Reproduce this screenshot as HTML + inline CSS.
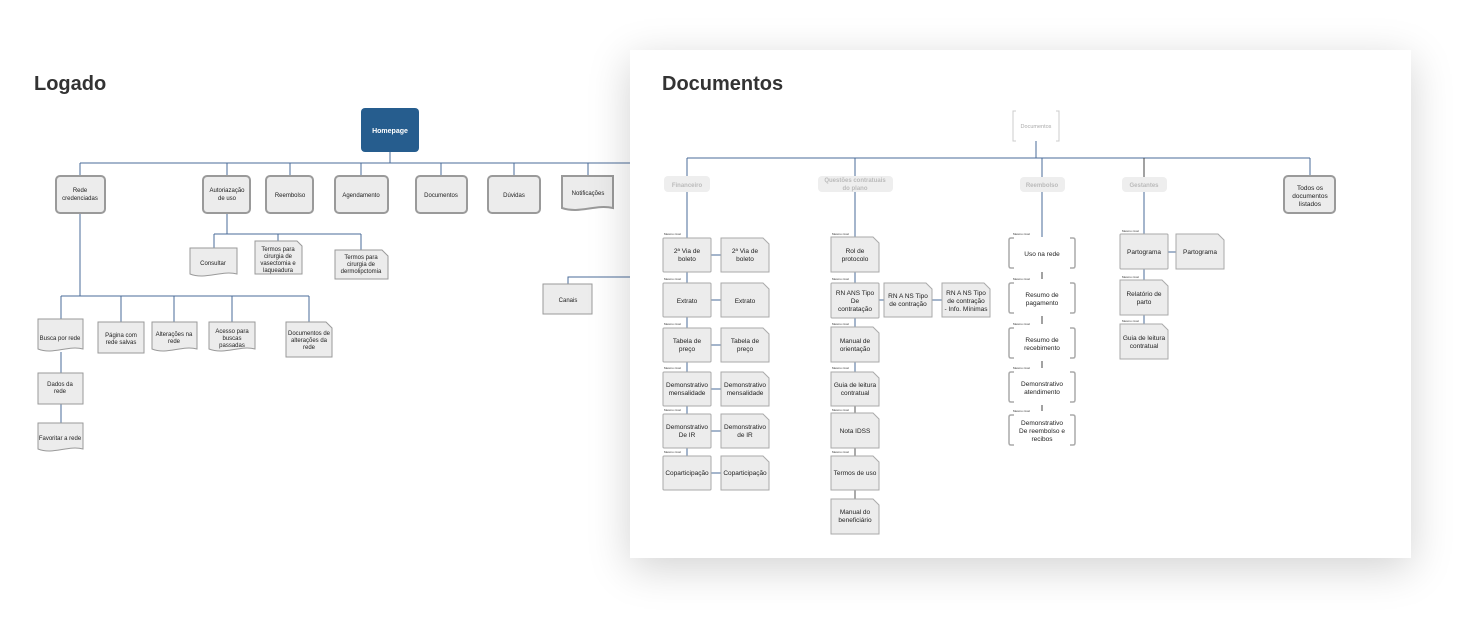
<!DOCTYPE html>
<html><head><meta charset="utf-8"><style>
html,body{margin:0;padding:0;background:#fff;}
body{width:1471px;height:628px;position:relative;overflow:hidden;font-family:"Liberation Sans",sans-serif;}
.card{position:absolute;left:630px;top:50px;width:781px;height:508px;background:#fff;box-shadow:0 10px 40px rgba(0,0,0,0.18);}
svg{position:absolute;left:0;top:0;}
text{font-family:"Liberation Sans",sans-serif;}
</style></head><body>
<svg width="1471" height="628" style="z-index:0">
<g fill="none" stroke="#4a6b98" stroke-width="1">
<path d="M80 163H630M390 152V163M80 163V176M227 163V176M290 163V176M361 163V176M441 163V176M514 163V176M588 163V176"/>
<path d="M227 213V234M214 234H361M214 234V248M278 234V241M361 234V250"/>
<path d="M80 213V296M61 296H309M61 296V319M121 296V322M174 296V322M232 296V322M309 296V322M61 352V373M61 404V423"/>
<path d="M568 314V277H630"/>
</g>
<text x="34" y="90" font-size="20" font-weight="bold" fill="#333">Logado</text>
<rect x="361" y="108" width="58" height="44" rx="4" fill="#265d8e"/>
<text x="390" y="133" font-size="7" font-weight="bold" fill="#fff" text-anchor="middle">Homepage</text>
<g fill="#ececec" stroke="#9a9a9a" stroke-width="2">
<rect x="56" y="176" width="49" height="37" rx="4"/>
<rect x="203" y="176" width="47" height="37" rx="4"/>
<rect x="266" y="176" width="47" height="37" rx="4"/>
<rect x="335" y="176" width="53" height="37" rx="4"/>
<rect x="416" y="176" width="51" height="37" rx="4"/>
<rect x="488" y="176" width="52" height="37" rx="4"/>
</g>
<g fill="#ececec" stroke="#9a9a9a" stroke-width="1">
<path d="M562 176H613V208C595 204 580 214 562 208Z" stroke-width="2"/>
<path d="M190 248H237V274C222 270 205 280 190 274Z"/>
<path d="M255 241H297L302 246V274H255Z"/>
<path d="M335 250H382L388 256V279H335Z"/>
<path d="M38 319H83V349C68 345 53 355 38 349Z"/>
<rect x="98" y="322" width="46" height="31"/>
<path d="M152 322H197V349C182 345 167 355 152 349Z"/>
<path d="M209 322H255V349C240 345 225 355 209 349Z"/>
<path d="M286 322H326L332 328V357H286Z"/>
<rect x="38" y="373" width="45" height="31"/>
<path d="M38 423H83V449C68 445 53 455 38 449Z"/>
<rect x="543" y="284" width="49" height="30"/>
</g>
<g font-size="6" fill="#222" text-anchor="middle">
<text x="80" y="192">Rede</text><text x="80" y="200">credenciadas</text>
<text x="227" y="192">Autoriazação</text><text x="227" y="200">de uso</text>
<text x="290" y="197">Reembolso</text>
<text x="361" y="197">Agendamento</text>
<text x="441" y="197">Documentos</text>
<text x="514" y="197">Dúvidas</text>
<text x="588" y="195">Notificações</text>
<text x="213" y="265">Consultar</text>
<text x="278" y="251">Termos para</text><text x="278" y="258">cirurgia de</text><text x="278" y="265">vasectomia e</text><text x="278" y="272">laqueadura</text>
<text x="361" y="259">Termos para</text><text x="361" y="266">cirurgia de</text><text x="361" y="273">dermolipctomia</text>
<text x="60" y="340">Busca por rede</text>
<text x="121" y="337">Página com</text><text x="121" y="344">rede salvas</text>
<text x="174" y="336">Alterações na</text><text x="174" y="343">rede</text>
<text x="232" y="333">Acesso para</text><text x="232" y="340">buscas</text><text x="232" y="347">passadas</text>
<text x="309" y="335">Documentos de</text><text x="309" y="342">alterações da</text><text x="309" y="349">rede</text>
<text x="60" y="386">Dados da</text><text x="60" y="393">rede</text>
<text x="60" y="440">Favoritar a rede</text>
<text x="568" y="302">Canais</text>
</g>
</svg>
<div class="card"></div>
<svg width="1471" height="628" style="z-index:2">
<text x="662" y="90" font-size="20" font-weight="bold" fill="#333">Documentos</text>
<g fill="none" stroke-width="1">
<path stroke="#4a6b98" d="M1036 141V158M687 158H1310M687 158V176M855 158V176M1042 158V177M1310 158V176"/>
<path stroke="#444" d="M1144 158V177"/>
<path stroke="#4a6b98" d="M687 192V238M687 272V283M687 317V328M687 362V372M687 406V414M687 448V456M711 255H721M711 300H721M711 345H721M711 389H721M711 431H721M711 473H721"/>
<path stroke="#4a6b98" d="M855 192V237M855 272V283M855 318V327M855 362V372M879 300H884M932 300H942"/>
<path stroke="#555" d="M855 406V413M855 448V456M855 490V499"/>
<path stroke="#4a6b98" d="M1042 192V237"/>
<path stroke="#444" d="M1042 272V279M1042 316V324M1042 361V368M1042 405V411"/>
<path stroke="#4a6b98" d="M1144 192V234M1144 269V280M1144 315V324M1168 252H1176"/>
</g>
<path d="M1016 111h-3v30h3M1056 111h3v30h-3" fill="none" stroke="#ccc" stroke-width="1"/>
<text x="1036" y="128" font-size="5.5" fill="#aaa" text-anchor="middle">Documentos</text>
<g fill="#eee">
<rect x="664" y="176" width="46" height="16" rx="4"/>
<rect x="818" y="176" width="75" height="16" rx="4"/>
<rect x="1020" y="177" width="45" height="15" rx="4"/>
<rect x="1122" y="177" width="45" height="15" rx="4"/>
</g>
<g font-size="6" font-weight="bold" fill="#bbb" text-anchor="middle">
<text x="687" y="187">Financeiro</text>
<text x="855" y="182">Questões contratuais</text><text x="855" y="190">do plano</text>
<text x="1042" y="187">Reembolso</text>
<text x="1144" y="187">Gestantes</text>
</g>
<rect x="1284" y="176" width="51" height="37" rx="4" fill="#ececec" stroke="#9a9a9a" stroke-width="2"/>
<g fill="#ececec" stroke="#aaa" stroke-width="1">
<rect x="663" y="238" width="48" height="34" rx="1"/><path d="M721 238H763L769 244V272H721Z"/>
<rect x="663" y="283" width="48" height="34" rx="1"/><path d="M721 283H763L769 289V317H721Z"/>
<rect x="663" y="328" width="48" height="34" rx="1"/><path d="M721 328H763L769 334V362H721Z"/>
<rect x="663" y="372" width="48" height="34" rx="1"/><path d="M721 372H763L769 378V406H721Z"/>
<rect x="663" y="414" width="48" height="34" rx="1"/><path d="M721 414H763L769 420V448H721Z"/>
<rect x="663" y="456" width="48" height="34" rx="1"/><path d="M721 456H763L769 462V490H721Z"/>
<path d="M831 237H873L879 243V272H831Z"/>
<rect x="831" y="283" width="48" height="35" rx="1"/>
<path d="M884 283H926L932 289V317H884Z"/><path d="M942 283H984L990 289V317H942Z"/>
<path d="M831 327H873L879 333V362H831Z"/>
<path d="M831 372H873L879 378V406H831Z"/>
<path d="M831 413H873L879 419V448H831Z"/>
<path d="M831 456H873L879 462V490H831Z"/>
<path d="M831 499H873L879 505V534H831Z"/>
<rect x="1120" y="234" width="48" height="35" rx="1"/><path d="M1176 234H1218L1224 240V269H1176Z"/>
<path d="M1120 280H1162L1168 286V315H1120Z"/>
<path d="M1120 324H1162L1168 330V359H1120Z"/>
</g>
<g fill="none" stroke="#aaa" stroke-width="1.5">
<path d="M1014 238h-3q-2 0-2 2v26q0 2 2 2h3M1070 238h3q2 0 2 2v26q0 2-2 2h-3"/>
<path d="M1014 283h-3q-2 0-2 2v26q0 2 2 2h3M1070 283h3q2 0 2 2v26q0 2-2 2h-3"/>
<path d="M1014 328h-3q-2 0-2 2v26q0 2 2 2h3M1070 328h3q2 0 2 2v26q0 2-2 2h-3"/>
<path d="M1014 372h-3q-2 0-2 2v26q0 2 2 2h3M1070 372h3q2 0 2 2v26q0 2-2 2h-3"/>
<path d="M1014 415h-3q-2 0-2 2v26q0 2 2 2h3M1070 415h3q2 0 2 2v26q0 2-2 2h-3"/>
</g>
<g font-size="3" fill="#333">
<text x="664" y="235">Mesmo nível</text><text x="664" y="280">Mesmo nível</text><text x="664" y="325">Mesmo nível</text><text x="664" y="369">Mesmo nível</text><text x="664" y="411">Mesmo nível</text><text x="664" y="453">Mesmo nível</text>
<text x="832" y="235">Mesmo nível</text><text x="832" y="280">Mesmo nível</text><text x="832" y="325">Mesmo nível</text><text x="832" y="369">Mesmo nível</text><text x="832" y="411">Mesmo nível</text><text x="832" y="453">Mesmo nível</text>
<text x="1013" y="235">Mesmo nível</text><text x="1013" y="280">Mesmo nível</text><text x="1013" y="325">Mesmo nível</text><text x="1013" y="369">Mesmo nível</text><text x="1013" y="412">Mesmo nível</text>
<text x="1122" y="232">Mesmo nível</text><text x="1122" y="278">Mesmo nível</text><text x="1122" y="322">Mesmo nível</text>
</g>
<g font-size="6.5" fill="#222" text-anchor="middle">
<text x="687" y="253">2ª Via de</text><text x="687" y="261">boleto</text><text x="745" y="253">2ª Via de</text><text x="745" y="261">boleto</text>
<text x="687" y="303">Extrato</text><text x="745" y="303">Extrato</text>
<text x="687" y="343">Tabela de</text><text x="687" y="351">preço</text><text x="745" y="343">Tabela de</text><text x="745" y="351">preço</text>
<text x="687" y="387">Demonstrativo</text><text x="687" y="395">mensalidade</text><text x="745" y="387">Demonstrativo</text><text x="745" y="395">mensalidade</text>
<text x="687" y="429">Demonstrativo</text><text x="687" y="437">De IR</text><text x="745" y="429">Demonstrativo</text><text x="745" y="437">de IR</text>
<text x="687" y="475">Coparticipação</text><text x="745" y="475">Coparticipação</text>
<text x="855" y="253">Rol de</text><text x="855" y="261">protocolo</text>
<text x="855" y="295">RN ANS Tipo</text><text x="855" y="303">De</text><text x="855" y="311">contratação</text>
<text x="908" y="298">RN A NS Tipo</text><text x="908" y="306">de contração</text>
<text x="966" y="295">RN A NS Tipo</text><text x="966" y="303">de contração</text><text x="966" y="311">- Info. Mínimas</text>
<text x="855" y="343">Manual de</text><text x="855" y="351">orientação</text>
<text x="855" y="387">Guia de leitura</text><text x="855" y="395">contratual</text>
<text x="855" y="433">Nota IDSS</text>
<text x="855" y="475">Termos de uso</text>
<text x="855" y="514">Manual do</text><text x="855" y="522">beneficiário</text>
<text x="1042" y="256">Uso na rede</text>
<text x="1042" y="297">Resumo de</text><text x="1042" y="305">pagamento</text>
<text x="1042" y="342">Resumo de</text><text x="1042" y="350">recebimento</text>
<text x="1042" y="386">Demonstrativo</text><text x="1042" y="394">atendimento</text>
<text x="1042" y="425">Demonstrativo</text><text x="1042" y="433">De reembolso e</text><text x="1042" y="441">recibos</text>
<text x="1144" y="254">Partograma</text><text x="1200" y="254">Partograma</text>
<text x="1144" y="296">Relatório de</text><text x="1144" y="304">parto</text>
<text x="1144" y="340">Guia de leitura</text><text x="1144" y="348">contratual</text>
<text x="1310" y="190">Todos os</text><text x="1310" y="198">documentos</text><text x="1310" y="206">listados</text>
</g>
</svg>
</body></html>
